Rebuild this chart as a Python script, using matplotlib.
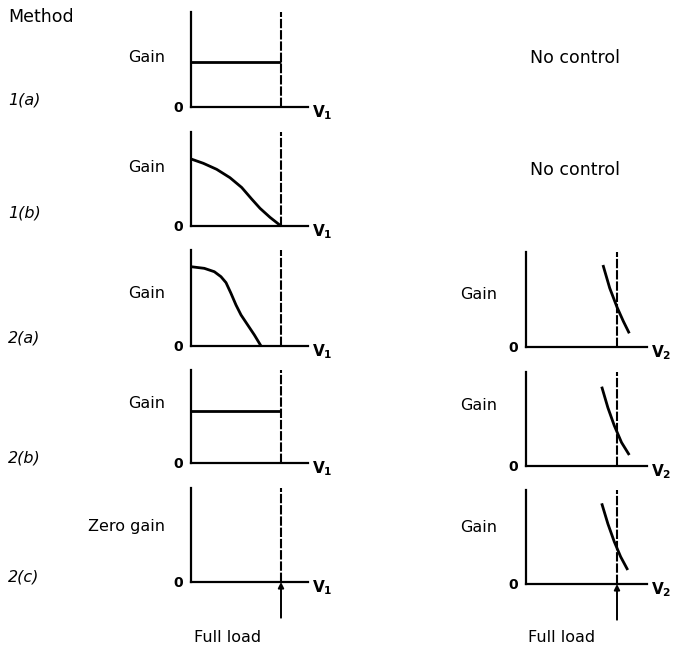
import matplotlib.pyplot as plt

plt.rcParams['font.family'] = ['DejaVu Sans']

W, H = 684, 654

methods = ['1(a)', '1(b)', '2(a)', '2(b)', '2(c)']
left_labels = ['Gain', 'Gain', 'Gain', 'Gain', 'Zero gain']
right_labels = ['No control', 'No control', 'Gain', 'Gain', 'Gain']

# gain vs V1 (x: fraction of full load, y: fraction of axis height)
v1_x = [
    [0.0, 1.0],
    [0.0, 0.137, 0.285, 0.433, 0.563, 0.674, 0.767, 0.878, 1.0],
    [0.0, 0.148, 0.259, 0.333, 0.389, 0.444, 0.5, 0.556, 0.63, 0.704, 0.778],
    [0.0, 1.0],
    [],
]
v1_gain = [
    [0.47, 0.47],
    [0.713, 0.667, 0.603, 0.514, 0.41, 0.287, 0.188, 0.092, 0.0],
    [0.826, 0.809, 0.774, 0.722, 0.66, 0.549, 0.427, 0.323, 0.219, 0.115, 0.0],
    [0.56, 0.56],
    [],
]

# gain vs V2
v2_x = [
    [],
    [],
    [0.846, 0.92, 1.0, 1.07, 1.135],
    [0.832, 0.9, 0.97, 1.05, 1.135],
    [0.832, 0.9, 0.97, 1.04, 1.118],
]
v2_gain = [
    [],
    [],
    [0.863, 0.62, 0.42, 0.27, 0.144],
    [0.844, 0.62, 0.43, 0.25, 0.117],
    [0.858, 0.64, 0.45, 0.29, 0.149],
]

# panel rectangles in pixels: (top, bottom)
left_rows = [(12, 107), (132, 226), (250, 346), (370, 463), (488, 582)]
right_rows = [None, None, (252, 347), (372, 466), (490, 584)]
left_x0, left_w, left_full = 191, 117, 90
right_x0, right_w, right_full = 526, 121, 91

method_y = [100, 213, 338, 458, 577]
left_label_y = [57, 168, 294, 403, 527]
right_label_y = [58, 170, 295, 405, 528]

fig = plt.figure(figsize=(W / 100, H / 100), dpi=100)


def fx(px):
    return px / W


def fy(py):
    return 1 - py / H


def panel(x0, w, full, top, bottom, xs, ys, sub, last):
    ax = fig.add_axes([fx(x0), fy(bottom), w / W, (bottom - top) / H])
    xmax = w / full
    ax.set_xlim(0, xmax)
    ax.set_ylim(0, 1)
    for s in ['top', 'right']:
        ax.spines[s].set_visible(False)
    for s in ['left', 'bottom']:
        ax.spines[s].set_linewidth(1.6)
        ax.spines[s].set_color('black')
    ax.set_xticks([])
    ax.set_yticks([])
    ax.patch.set_alpha(0)
    ax.axvline(1.0, color='black', lw=1.5, ls=(0, (4.5, 0.9)))
    if len(xs):
        ax.plot(xs, ys, color='black', lw=2.0, solid_capstyle='butt',
                solid_joinstyle='round', clip_on=False)
    ax.text(-0.14, -0.01, '0', ha='center', va='center', fontsize=10,
            fontweight='bold', transform=ax.transData)
    ax.text(xmax + 0.04, -0.06, r'$\mathbf{V_%d}$' % sub, ha='left',
            va='center', fontsize=11, transform=ax.transData)
    if last:
        ax.annotate('', xy=(1.0, 0.0), xytext=(1.0, -0.38),
                    xycoords='data', textcoords='data',
                    arrowprops=dict(arrowstyle='-|>', color='black', lw=1.4,
                                    mutation_scale=8, shrinkA=0, shrinkB=0),
                    annotation_clip=False)
    return ax


for i in range(5):
    top, bottom = left_rows[i]
    panel(left_x0, left_w, left_full, top, bottom, v1_x[i], v1_gain[i], 1,
          i == 4)
    if right_rows[i] is not None:
        top, bottom = right_rows[i]
        panel(right_x0, right_w, right_full, top, bottom, v2_x[i],
              v2_gain[i], 2, i == 4)
        fig.text(fx(497), fy(right_label_y[i]), right_labels[i], ha='right',
                 va='center', fontsize=11.5)
    else:
        fig.text(fx(575), fy(right_label_y[i]), right_labels[i],
                 ha='center', va='center', fontsize=12.5)
    fig.text(fx(8), fy(method_y[i]), methods[i], ha='left', va='center',
             fontsize=11.5, style='italic')
    fig.text(fx(165), fy(left_label_y[i]), left_labels[i], ha='right',
             va='center', fontsize=11.5)

fig.text(fx(8), fy(17), 'Method', ha='left', va='center', fontsize=12.5)
fig.text(fx(228), fy(638), 'Full load', ha='center', va='center',
         fontsize=11.5)
fig.text(fx(562), fy(638), 'Full load', ha='center', va='center',
         fontsize=11.5)

fig.savefig('out.png', dpi=100)
